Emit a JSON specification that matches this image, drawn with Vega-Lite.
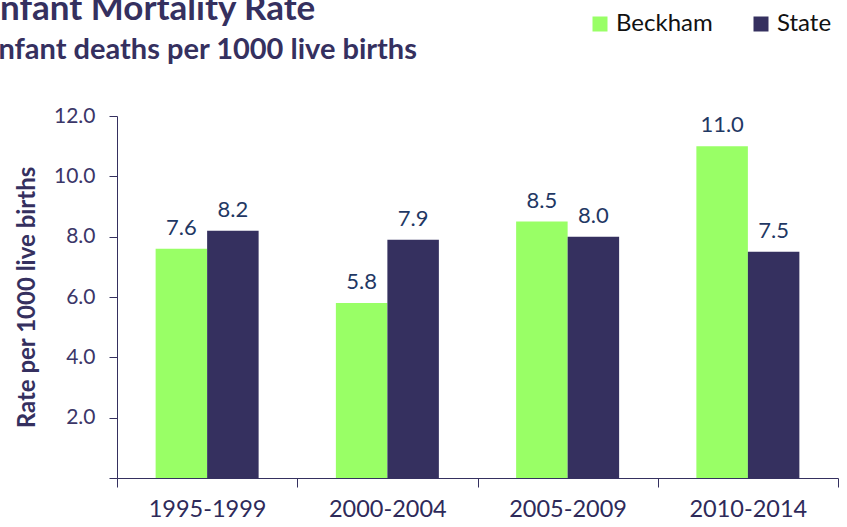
{
  "$schema": "https://vega.github.io/schema/vega-lite/v6.json",
  "autosize": {"type": "none"},
  "width": 721,
  "height": 362,
  "padding": {"left": 117, "top": 116, "right": 9, "bottom": 49},
  "background": "white",
  "data": {
    "values": [
      {"period": "1995-1999", "group": "Beckham", "rate": 7.6},
      {"period": "1995-1999", "group": "State", "rate": 8.2},
      {"period": "2000-2004", "group": "Beckham", "rate": 5.8},
      {"period": "2000-2004", "group": "State", "rate": 7.9},
      {"period": "2005-2009", "group": "Beckham", "rate": 8.5},
      {"period": "2005-2009", "group": "State", "rate": 8.0},
      {"period": "2010-2014", "group": "Beckham", "rate": 11.0},
      {"period": "2010-2014", "group": "State", "rate": 7.5}
    ]
  },
  "title": {
    "text": "Infant Mortality Rate",
    "subtitle": "Infant deaths per 1000 live births",
    "anchor": "start",
    "frame": "group",
    "dx": -127,
    "offset": -53,
    "font": "Lato",
    "fontSize": 35,
    "fontWeight": "bold",
    "color": "#35305F",
    "subtitleFont": "Lato",
    "subtitleFontSize": 29,
    "subtitleFontWeight": "bold",
    "subtitleColor": "#35305F",
    "subtitlePadding": 9
  },
  "encoding": {
    "x": {
      "field": "period",
      "type": "nominal",
      "sort": null,
      "scale": {"paddingInner": 0, "paddingOuter": 0},
      "axis": {
        "title": null,
        "labelAngle": 0,
        "tickBand": "extent",
        "domainColor": "#35305F",
        "tickColor": "#35305F",
        "tickSize": 9,
        "labelFont": "Lato",
        "labelFontSize": 23.5,
        "labelColor": "#2E2A5A",
        "labelPadding": 10,
        "grid": false
      }
    },
    "y": {
      "field": "rate",
      "type": "quantitative",
      "scale": {"domain": [0, 12], "nice": false},
      "axis": {
        "title": "Rate per 1000 live births",
        "titleFont": "Lato",
        "titleFontSize": 24,
        "titleFontWeight": "bold",
        "titleColor": "#35305F",
        "titlePadding": 14,
        "values": [0, 2, 4, 6, 8, 10, 12],
        "labelExpr": "datum.value == 0 ? '' : format(datum.value, '.1f')",
        "labelFont": "Lato",
        "labelFontSize": 21,
        "labelColor": "#3B3668",
        "labelPadding": 14,
        "domainColor": "#35305F",
        "tickColor": "#35305F",
        "tickSize": 8,
        "grid": false
      }
    },
    "xOffset": {"field": "group", "type": "nominal", "scale": {"paddingInner": 0, "paddingOuter": 0.75}}
  },
  "layer": [
    {
      "mark": {"type": "bar"},
      "encoding": {
        "color": {
          "field": "group",
          "type": "nominal",
          "scale": {"domain": ["Beckham", "State"], "range": ["#99FF66", "#35305F"]},
          "legend": {
            "title": null,
            "orient": "none",
            "direction": "horizontal",
            "legendX": 471,
            "legendY": -104,
            "symbolType": "square",
            "symbolSize": 225,
            "symbolStrokeWidth": 0,
            "symbolOpacity": 1,
            "labelFont": "Lato",
            "labelFontSize": 24,
            "labelColor": "#111111",
            "labelOffset": 4,
            "columnPadding": 36,
            "padding": 0
          }
        }
      }
    },
    {
      "mark": {"type": "text", "baseline": "bottom", "dy": -9, "font": "Lato", "fontSize": 22, "color": "#1F3864"},
      "encoding": {
        "text": {"field": "rate", "type": "quantitative", "format": ".1f"}
      }
    }
  ],
  "config": {
    "view": {"stroke": null}
  }
}
